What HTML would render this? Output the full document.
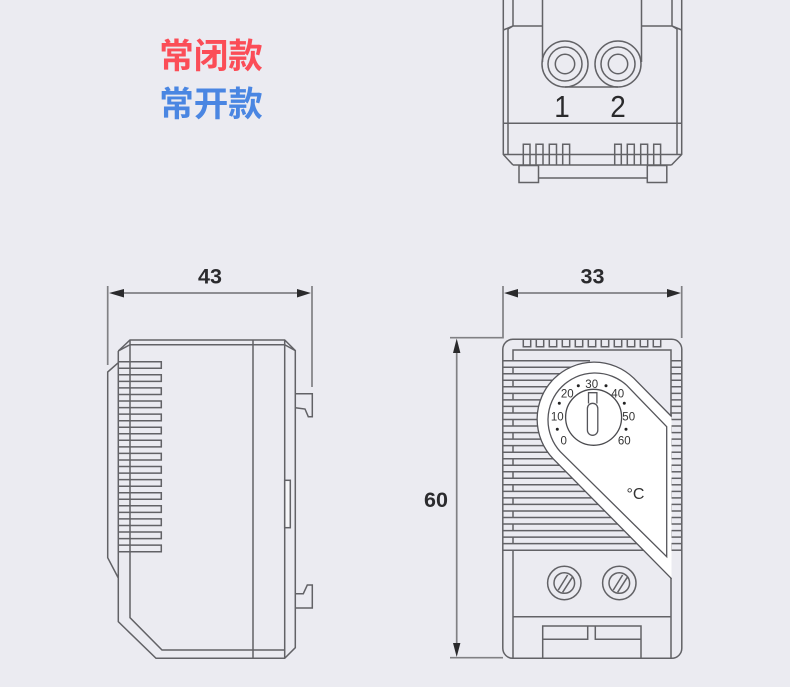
<!DOCTYPE html>
<html><head><meta charset="utf-8">
<style>
html,body{margin:0;padding:0;background:#ebebf1}
body{width:790px;height:687px;overflow:hidden;position:relative}
svg{position:absolute;left:0;top:0}
text{font-family:"Liberation Sans",sans-serif}
.cn{font-family:"Liberation Sans","Noto Sans CJK SC",sans-serif;font-weight:700;font-size:34.5px;text-anchor:middle}
.dim{font-weight:700;font-size:21.5px;fill:#2b2b2e;text-anchor:middle}
.sc{font-size:11.5px;fill:#333;text-anchor:middle}
.l{fill:none;stroke:#626266;stroke-width:1.5}
.t{fill:none;stroke:#55555a;stroke-width:1.3}
.d{fill:none;stroke:#808084;stroke-width:1.7}
.a{fill:#2a2a2c;stroke:none}
</style></head><body>
<svg width="790" height="687" viewBox="0 0 790 687" xmlns="http://www.w3.org/2000/svg">
<rect width="790" height="687" fill="#ebebf1"/>
<text class="cn" x="211" y="68" fill="#fb4d57">常闭款</text>
<text class="cn" x="211" y="116" fill="#4a86e2">常开款</text>

<!-- top view -->
<g class="l">
<path d="M503.3 0V154.5L513 165M681.7 0V154.5L671.5 165M508 29V154.5M677 29V154.5"/>
<path d="M513 0V26L503.3 30M513 26H542.5V62M672 0V26L681.7 30M672 26H641.5V62M542.5 0V62M641.5 0V62M513 26L508 29M672 26L677 29"/>
<path d="M565 87H618"/>
<circle cx="565" cy="64" r="23"/><circle cx="565" cy="64" r="17"/><circle cx="565" cy="64" r="9.7"/>
<circle cx="618" cy="64" r="23"/><circle cx="618" cy="64" r="17"/><circle cx="618" cy="64" r="9.7"/>
<path d="M503.3 123.3H681.7M503.3 154.5H681.7M513 165H671.5"/>
<path d="M523.3 165V144.3H530V165M536 165V144.3H543V165M549.3 165V144.3H556.5V165M562.7 165V144.3H569.6V165"/>
<path d="M614.7 165V144.3H621.3V165M627.3 165V144.3H634.3V165M640.7 165V144.3H647.6V165M653.7 165V144.3H660.6V165"/>
<rect x="519" y="165.5" width="19.5" height="17"/><rect x="647.3" y="165.5" width="19.5" height="17"/>
<path d="M538.5 178H647.3"/>
</g>
<text x="562" y="0" font-size="31" fill="#2a2a2c" text-anchor="middle" transform="translate(56.2 117) scale(.9 1)">1</text>
<text x="618" y="0" font-size="31" fill="#2a2a2c" text-anchor="middle" transform="translate(61.8 117) scale(.9 1)">2</text>

<!-- side view dimension -->
<g class="d"><path d="M107.7 286V365M312 286V387M120 293H300"/></g>
<path class="a" d="M109 293L124 289V297.5ZM311 293L297 289V297.5Z"/>
<text class="dim" x="210" y="283.5">43</text>

<!-- side view -->
<g class="l">
<path d="M118.3 351L130 340H284.7L295.3 350.6V647.7L284.7 658.3H156L118.3 621.7V351"/>
<path d="M118.3 351L130 344.7H284.7L295.3 350.6M130 340V617.7L162 650H284.7M284.7 340V658.3M253 340V658.3"/>
<path d="M118.3 362.7L107.7 372V557.7L118.3 578"/>
<path d="M118.3 361.7H161.3V368.3H118.3M118.3 374.8H161.3V381.4H118.3M118.3 387.9H161.3V394.5H118.3M118.3 401H161.3V407.6H118.3M118.3 414.1H161.3V420.7H118.3M118.3 427.2H161.3V433.8H118.3M118.3 440.3H161.3V446.9H118.3M118.3 453.4H161.3V460H118.3M118.3 466.5H161.3V473.1H118.3M118.3 479.6H161.3V486.2H118.3M118.3 492.7H161.3V499.3H118.3M118.3 505.8H161.3V512.4H118.3M118.3 518.9H161.3V525.5H118.3M118.3 532H161.3V538.6H118.3M118.3 545.1H161.3V551.7H118.3"/>
<path d="M295.3 393.7H312.3V416.7H308.3L305 409L295.3 407.7"/>
<path d="M295.3 593.7H303.3L307.3 585H312.3V608H295.3"/>
<rect x="284.7" y="480.3" width="5.6" height="47.4" fill="#f6f6f8"/>
</g>

<!-- front view dimensions -->
<g class="d"><path d="M503 286V337.7H450M681.7 286V338M515 293H670M456.7 345V650M450 657.7H503"/></g>
<path class="a" d="M504 293L518 289V297.5ZM681 293L667 289V297.5ZM456.7 338.5L453 353H460.4ZM456.7 657L453 643H460.4Z"/>
<text class="dim" x="592.5" y="283.5">33</text>
<text class="dim" x="436" y="507">60</text>

<!-- front view body -->
<g class="l">
<rect x="502.8" y="339.3" width="179" height="319" rx="10" ry="10"/>
<path d="M513 360V350H671V417M513 550V658.3M671 578V658.3M513 616.7H671"/>
<path d="M523.3 339.3V346.7H530.7V339.3M536.3 339.3V346.7H543.7V339.3M549.3 339.3V346.7H556.7V339.3M562.3 339.3V346.7H569.7V339.3M575.3 339.3V346.7H582.7V339.3M588.3 339.3V346.7H595.7V339.3M601.3 339.3V346.7H608.7V339.3M614.3 339.3V346.7H621.7V339.3M627.3 339.3V346.7H634.7V339.3M640.3 339.3V346.7H647.7V339.3M653.3 339.3V346.7H660.7V339.3"/>
<!-- left fins -->
<path d="M503 360.7H590M503 367.2H575M503 373.8H565M503 380.3H560M503 386.8H555M503 393.4H550M503 399.9H548M503 406.4H545M503 413H542M503 419.5H542M503 426H542M503 432.6H545M503 439.1H548M503 445.6H552M503 452.2H556M503 458.7H560M503 465.2H565M503 471.8H570M503 478.3H575M503 484.8H582M503 491.4H589M503 497.9H595M503 504.4H602M503 511H608M503 517.5H615M503 524H621M503 530.6H628M503 537.1H634M503 543.6H641M503 550.2H646"/>
<path d="M513 367.2V373.8M513 380.3V386.8M513 393.4V399.9M513 406.4V413M513 419.5V426M513 432.6V439.1M513 445.6V452.2M513 458.7V465.2M513 471.8V478.3M513 484.8V491.4M513 497.9V504.4M513 511V517.5M513 524V530.6M513 537.1V543.6"/>
<!-- right fins -->
<path d="M671 360.7H681.7M671 367.2H681.7M671 373.8H681.7M671 380.3H681.7M671 386.8H681.7M671 393.4H681.7M671 399.9H681.7M671 406.4H681.7"/>
<rect x="671" y="413" width="10.7" height="6.5"/>
<rect x="671" y="426" width="10.7" height="6.6"/><rect x="671" y="439.1" width="10.7" height="6.5"/>
<rect x="671" y="452.2" width="10.7" height="6.5"/><rect x="671" y="465.2" width="10.7" height="6.6"/>
<rect x="671" y="478.3" width="10.7" height="6.5"/><rect x="671" y="491.4" width="10.7" height="6.5"/>
<rect x="671" y="504.4" width="10.7" height="6.6"/><rect x="671" y="517.5" width="10.7" height="6.5"/>
<rect x="671" y="530.6" width="10.7" height="6.5"/><rect x="671" y="543.6" width="10.7" height="6.6"/>
</g>
<!-- white panel -->
<path d="M671.5 416.5L633.8 378.2A57 57 0 0 0 553.2 458.8L671.5 578.7Z" fill="#fff"/>
<path class="t" d="M671.5 416.5L633.8 378.2A57 57 0 0 0 553.2 458.8L671.5 578.7"/>
<path class="t" d="M666.7 426.7L626.7 385.3A47 47 0 0 0 560.3 451.7L666.7 556.7Z"/>
<circle cx="593.6" cy="417.3" r="28" fill="#fff" stroke="#4a4a4e" stroke-width="1.3"/>
<path class="t" d="M588.5 403.5V392.7H596.9V403.5"/>
<rect class="t" x="587.4" y="403.3" width="10.4" height="32" rx="5.2"/>
<g fill="#222">
<circle cx="578.3" cy="385.7" r="1.5"/><circle cx="606" cy="385.7" r="1.5"/>
<circle cx="624.3" cy="403.3" r="1.5"/><circle cx="626" cy="429.3" r="1.5"/>
<circle cx="557.3" cy="429.3" r="1.5"/><circle cx="559.3" cy="403.3" r="1.5"/>
</g>
<text class="sc" x="591.7" y="388">30</text>
<text class="sc" x="567.3" y="397.3">20</text>
<text class="sc" x="617.7" y="397.3">40</text>
<text class="sc" x="557.3" y="420.7">10</text>
<text class="sc" x="628.7" y="420.7">50</text>
<text class="sc" x="563.7" y="444.7">0</text>
<text class="sc" x="624.3" y="444.7">60</text>
<text x="635.5" y="499" font-size="16" fill="#333" text-anchor="middle">°C</text>

<!-- screws -->
<g class="l">
<circle cx="564.3" cy="583" r="16.7"/><circle cx="564.3" cy="583" r="10.3"/>
<path d="M558.3 590L567.6 575M562.6 592.3L572.3 577.3"/>
<circle cx="619.3" cy="583" r="16.7"/><circle cx="619.3" cy="583" r="10.3"/>
<path d="M613.3 590L622.6 575M617.6 592.3L627.3 577.3"/>
<path d="M542.7 658.3V626H641V658.3M542.7 639.3H587.7V626M595.3 626V639.3H641"/>
</g>
</svg>
</body></html>
